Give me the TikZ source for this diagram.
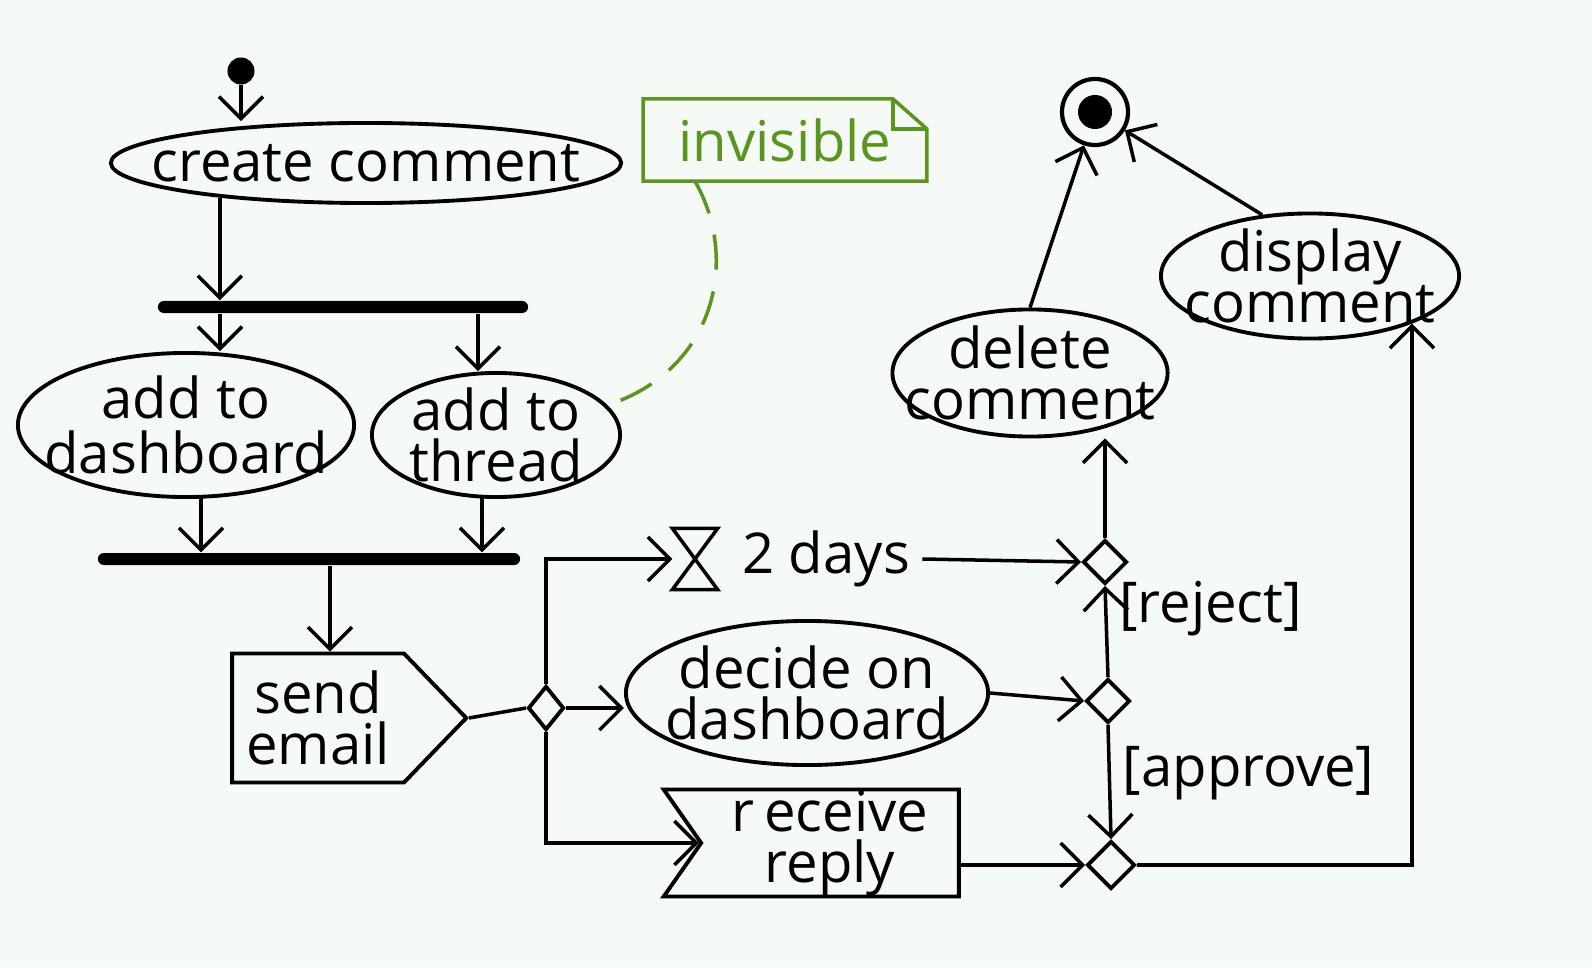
\documentclass[tikz,border=0pt]{standalone}
\usepackage{fontspec}
\setmainfont{Open Sans}
\usepackage{tikz}
\usetikzlibrary{positioning, arrows.meta, shapes.geometric, shapes.symbols}

\definecolor{notegreen}{RGB}{92,148,32}
\definecolor{paper}{RGB}{246,250,246}

\begin{document}
\begin{tikzpicture}[
    x=0.01cm, y=-0.01cm,
    every node/.style={font=\fontsize{16}{14.5}\selectfont, align=center},
    action/.style={draw, ellipse, line width=1.1pt, inner xsep=-2cm, inner ysep=-1cm},
    forkbar/.style={fill, rounded corners=0.06cm, minimum height=0.12cm, inner sep=0pt},
    decision/.style={draw, diamond, line width=1.1pt, inner sep=0pt, minimum size=0.44cm},
    startdot/.style={circle, fill, inner sep=0pt, minimum size=0.27cm},
    plain/.style={line width=1pt},
    flow/.style={line width=1pt, -{Straight Barb[length=0.22cm, width=0.44cm]}},
    notelink/.style={notegreen, line width=1pt, dash pattern=on 0.35cm off 0.22cm}
]
\fill[paper] (0,0) rectangle (1592,967);
\useasboundingbox (0,0) rectangle (1592,967);

% left column
\node[startdot] (start) at (241,71) {};
\node[action, minimum width=5.1cm, minimum height=0.8cm] (create) at (366,163) {create comment};
\node[forkbar, minimum width=3.7cm] (fork) at (343,307) {};
\node[action, minimum width=3.36cm, minimum height=1.44cm] (dash) at (186,425) {add to\\[1.2pt]dashboard};
\node[action, minimum width=2.48cm, minimum height=1.24cm] (thread) at (496,435) {add to\\thread};
\node[forkbar, minimum width=4.22cm] (join) at (309,559) {};
\node[draw, signal, signal to=east, signal pointer angle=92, line width=1.1pt,
      minimum width=2.34cm, minimum height=1.29cm, inner sep=0pt] (send) at (318,718) {send\\email};

% middle
\node[decision, minimum width=0.36cm] (split) at (546,708) {};
\node[minimum width=0.44cm, minimum height=0.6cm, inner sep=0pt] (wait) at (695,559) {};
\draw[plain] (wait.north west) -- (wait.north east) -- (wait.south west) -- (wait.south east) -- cycle;
\node[right=0.12cm of wait] (days) {2 days};
\node[action, minimum width=3.62cm, minimum height=1.44cm] (decide) at (807,693) {decide on\\dashboard};
\node[draw, signal, signal from=west, signal to=nowhere, signal pointer angle=110, line width=1.1pt,
      minimum width=2.95cm, minimum height=1.07cm, inner sep=0pt] (reply) at (830,843) {r\,eceive\\reply};

% right
\node[decision] (timeout) at (1105,562) {};
\node[decision] (verdict) at (1108,701) {};
\node[decision, minimum size=0.48cm] (merge) at (1111,865) {};
\node[action, minimum width=2.75cm, minimum height=1.27cm] (delete) at (1030,373) {delete\\comment};
\node[action, minimum width=2.98cm, minimum height=1.25cm] (display) at (1310,276) {display\\comment};
\node[draw, circle, line width=1.2pt, minimum size=0.66cm, inner sep=0pt] (stop) at (1095,112) {};
\node[circle, fill, minimum size=0.34cm, inner sep=0pt] (stopcore) at (stop) {};

% note
\node[minimum width=2.82cm, minimum height=0.81cm, text=notegreen] (note) at (785,140) {invisible};
\draw[notegreen, line width=1pt] (note.north west) -- ([xshift=-0.34cm]note.north east)
    -- ([yshift=-0.3cm]note.north east) -- (note.south east) -- (note.south west) -- cycle;
\draw[notegreen, line width=1pt] ([xshift=-0.34cm]note.north east) -- ([xshift=-0.34cm,yshift=-0.3cm]note.north east)
    -- ([yshift=-0.3cm]note.north east);
\draw[notelink] ([xshift=-0.9cm]note.south) .. controls (740,260) and (715,370) .. (thread.15);

% flows
\draw[flow] (start) -- (start |- create.north);
\draw[flow] ([xshift=-1.46cm,yshift=0.07cm]create.south) -- ([xshift=-1.46cm]create.south |- fork.north);
\draw[flow] ([xshift=0.34cm]dash.north |- fork.south) -- ([xshift=0.34cm]dash.north);
\draw[flow] ([xshift=-0.18cm]thread.north |- fork.south) -- ([xshift=-0.18cm]thread.north);
\draw[flow] ([xshift=0.15cm,yshift=0.01cm]dash.south) -- ([xshift=0.15cm]dash.south |- join.north);
\draw[flow] ([xshift=-0.14cm,yshift=0.01cm]thread.south) -- ([xshift=-0.14cm]thread.south |- join.north);
\draw[flow] ([xshift=0.12cm]send.north |- join.south) -- ([xshift=0.12cm]send.north);
\draw[plain] (send.east) -- (split.west);
\draw[flow] (split.east) -- (split.east -| decide.west);
\draw[flow] (split.north) |- (wait.west);
\draw[flow] (split.south) |- (reply.west);
\draw[flow] (days.east) -- (timeout.west);
\draw[flow] (decide.east) -- (verdict.west);
\draw[flow] (reply.east |- merge.west) -- (merge.west);
\draw[flow] (verdict.north) -- node[pos=0.75, right] {[reject]} (timeout.south);
\draw[flow] (verdict.south) -- node[pos=0.42, right] {[approve]} (merge.north);
\draw[flow] (timeout.north) -- (timeout.north |- delete.south);
\draw[flow] (delete.north) -- (stop);
\draw[flow] (display.128) -- (stop);
\draw[flow] (merge.east) -| (display.335);
\end{tikzpicture}
\end{document}
